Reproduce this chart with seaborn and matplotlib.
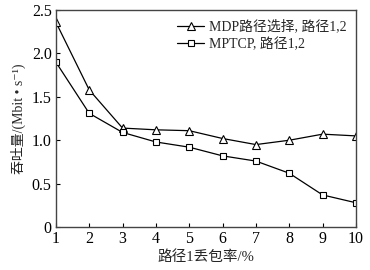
import matplotlib
matplotlib.use("Agg")
import matplotlib.pyplot as plt
import seaborn as sns
import pandas as pd

loss_rate = [1, 2, 3, 4, 5, 6, 7, 8, 9, 10]
mdp = [2.36, 1.58, 1.14, 1.12, 1.11, 1.02, 0.95, 1.00, 1.07, 1.05]
mptcp = [1.90, 1.31, 1.09, 0.98, 0.92, 0.82, 0.76, 0.62, 0.37, 0.28]
series_names = ["MDP路径选择, 路径1,2", "MPTCP, 路径1,2"]

sns.set_theme(style="white")
plt.rcParams['font.family'] = ['Liberation Serif', 'Noto Sans CJK SC', 'DejaVu Sans']

df = pd.DataFrame({
    "x": loss_rate * 2,
    "y": mdp + mptcp,
    "s": [series_names[0]] * len(mdp) + [series_names[1]] * len(mptcp),
})

fig = plt.figure(figsize=(3.7, 2.7), dpi=100)
ax = fig.add_axes([0.151, 0.159, 0.811, 0.804])
sns.lineplot(data=df, x="x", y="y", hue="s", style="s",
             palette=["black", "black"], markers=["^", "s"], dashes=False,
             markersize=5.5, markerfacecolor="white", markeredgecolor="black",
             markeredgewidth=0.8, linewidth=0.9, ax=ax)
ax.lines[1].set_markersize(4)

ax.set_xlim(1, 10)
ax.set_ylim(0, 2.5)
ax.set_xticks(loss_rate)
ax.set_yticks([0, 0.5, 1.0, 1.5, 2.0, 2.5])
ax.set_yticklabels(["0", "0.5", "1.0", "1.5", "2.0", "2.5"])
ax.tick_params(direction="in", length=3, width=0.8, labelsize=11.5, colors="black",
               left=True, bottom=True, pad=3)
ax.set_xlabel("路径1丢包率/%", fontsize=10.5, labelpad=2)
ax.set_ylabel("吞吐量/(Mbit • s⁻¹)", fontsize=10, labelpad=4)
for s in ax.spines.values():
    s.set_color("#444444")
    s.set_linewidth(1.0)

leg = ax.legend(loc="upper right", frameon=False, fontsize=10, handlelength=2.0,
                borderaxespad=0.3, handletextpad=0.3, labelspacing=0.3)
leg.legend_handles[1].set_markersize(4)
fig.savefig("out.png", dpi=100)
